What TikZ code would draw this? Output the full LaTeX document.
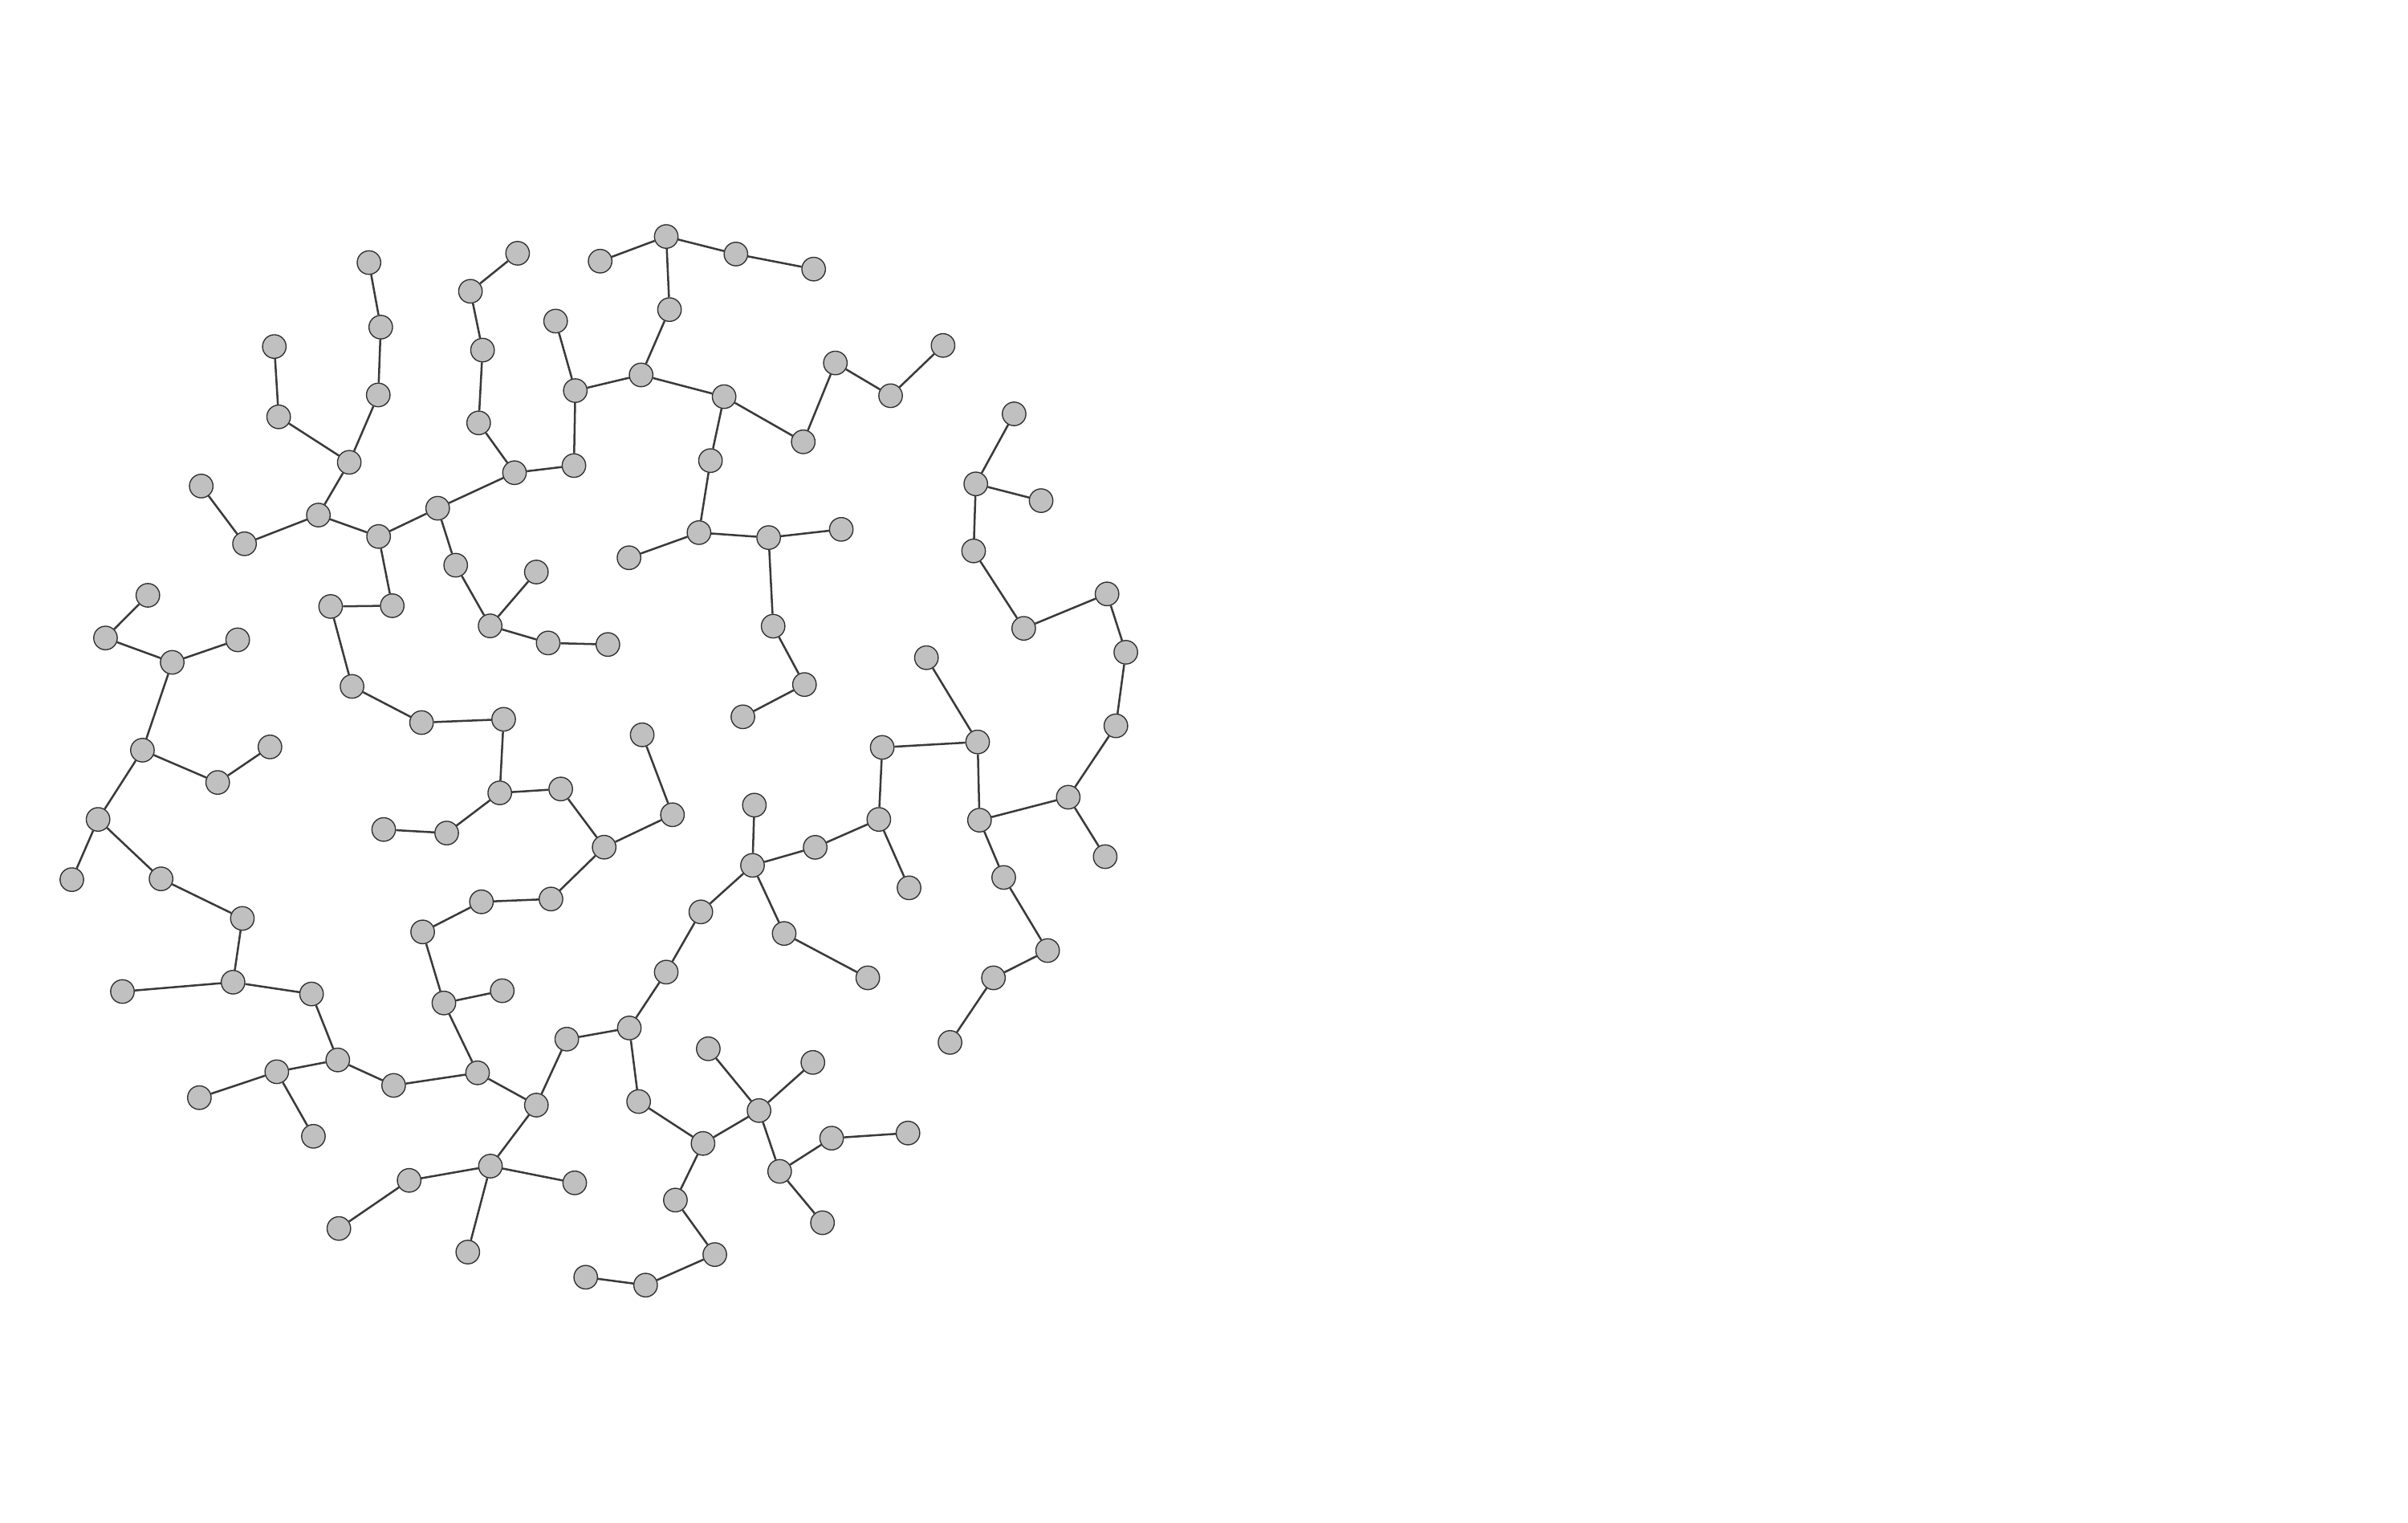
\documentclass[tikz,border=0pt]{standalone}
\definecolor{vfill}{HTML}{C0C0C0}
\definecolor{vline}{HTML}{303030}
\definecolor{eline}{HTML}{3A3A3A}
\tikzset{
  vtx/.style={circle,draw=vline,fill=vfill,line width=0.7pt,minimum size=15.2pt,inner sep=0pt},
  edg/.style={draw=eline,line width=1.3pt}
}
\begin{document}
\begin{tikzpicture}[x=1pt,y=-1pt]
\useasboundingbox (0,0) rectangle (1552,981);
% nodes
\foreach \n/\x/\y in {
n1/386.8/168.3, n2/429.4/152.4, n3/474.3/163.7, n4/524.4/173.4, n5/431.5/199.5,
n6/413.2/241.6, n7/370.8/251.7, n8/358.1/206.9, n9/369.9/300.0, n10/331.6/304.6,
n11/308.5/272.5, n12/311.0/225.6, n13/303.2/187.7, n14/333.6/163.2, n15/282.1/327.5,
n16/293.7/364.2, n17/315.9/403.3, n18/345.7/368.6, n19/353.3/414.3, n20/391.8/415.3,
n21/244.0/345.7, n22/252.8/390.3, n23/213.1/390.8, n24/226.9/442.3, n25/271.7/465.6,
n26/324.6/463.5, n27/322.1/510.9, n28/361.4/508.4, n29/287.9/536.8, n30/247.3/534.5,
n31/205.2/331.9, n32/157.6/350.4, n33/129.7/313.2, n34/225.1/297.9, n35/179.6/268.6,
n36/176.8/223.3, n37/243.8/254.5, n38/245.4/210.8, n39/237.8/169.2,
n40/466.7/255.6, n41/517.7/284.7, n42/538.4/233.9, n43/574.0/255.0, n44/607.8/222.6,
n45/457.9/296.8, n46/450.5/343.2, n47/405.4/359.4, n48/495.4/346.4, n49/542.2/341.1,
n50/498.3/403.5, n51/518.5/441.1, n52/478.8/461.9,
n53/95.3/383.6, n54/68.0/411.1, n55/111.0/426.8, n56/153.2/412.3, n57/91.8/483.4,
n58/140.3/504.2, n59/174.0/481.3, n60/63.2/528.0, n61/46.3/566.8, n62/103.8/566.3,
n63/156.2/591.8, n64/150.2/632.9, n65/78.9/638.9, n66/200.8/640.5, n67/217.7/683.0,
n68/178.4/690.6, n69/128.5/707.3, n70/202.0/732.2, n71/253.7/699.4, n72/307.8/691.3,
n73/286.1/646.3, n74/323.7/638.4, n75/272.4/600.5, n76/310.3/581.1, n77/355.1/579.3,
n78/389.4/545.9, n79/433.4/525.0, n80/413.9/473.5,
n81/345.7/712.1, n82/316.1/751.4, n83/263.7/760.6, n84/218.4/791.6, n85/301.5/806.8,
n86/370.4/762.2, n87/365.3/669.6, n88/405.6/662.4, n89/429.4/626.4, n90/451.7/587.6,
n91/485.0/557.6, n92/486.2/518.8, n93/525.4/546.0, n94/566.4/528.0, n95/568.6/481.6,
n96/630.1/478.1, n97/597.1/423.8, n98/631.3/528.5, n99/585.9/572.1, n100/505.4/601.5,
n101/559.3/630.1, n102/688.5/513.7, n103/719.2/467.7, n104/725.6/420.3, n105/713.5/382.7,
n106/659.8/404.9, n107/627.5/355.0, n108/628.9/311.8, n109/653.6/266.7, n110/671.0/322.6,
n111/712.3/552.0, n112/646.9/565.4, n113/675.2/612.5, n114/640.3/630.1, n115/612.3/671.7,
n116/411.6/709.8, n117/453.1/736.8, n118/489.2/715.6, n119/456.5/675.8, n120/523.9/684.6,
n121/502.5/754.8, n122/536.0/733.4, n123/585.2/730.1, n124/530.1/787.9, n125/435.3/773.3,
n126/460.7/808.4, n127/416.1/828.1, n128/377.5/823.0}
  {\node[vtx] (\n) at (\x,\y) {};}
% edges
\foreach \a/\b in {
n1/n2, n2/n3, n3/n4, n2/n5, n5/n6, n6/n7, n7/n8, n7/n9, n9/n10, n10/n11, n11/n12,
n12/n13, n13/n14, n10/n15, n15/n16, n16/n17, n17/n18, n17/n19, n19/n20, n15/n21,
n21/n22, n22/n23, n23/n24, n24/n25, n25/n26, n26/n27, n27/n28, n27/n29, n29/n30,
n21/n31, n31/n32, n32/n33, n31/n34, n34/n35, n35/n36, n34/n37, n37/n38, n38/n39,
n6/n40, n40/n41, n41/n42, n42/n43, n43/n44, n40/n45, n45/n46, n46/n47, n46/n48,
n48/n49, n48/n50, n50/n51, n51/n52,
n53/n54, n54/n55, n55/n56, n55/n57, n57/n58, n58/n59, n57/n60, n60/n61, n60/n62,
n62/n63, n63/n64, n64/n65, n64/n66, n66/n67, n67/n68, n68/n69, n68/n70, n67/n71,
n71/n72, n72/n73, n73/n74, n73/n75, n75/n76, n76/n77, n77/n78, n78/n79, n79/n80,
n78/n28,
n72/n81, n81/n82, n82/n83, n83/n84, n82/n85, n82/n86, n81/n87, n87/n88, n88/n89,
n89/n90, n90/n91, n91/n92, n91/n93, n93/n94, n94/n95, n95/n96, n96/n97, n96/n98,
n94/n99, n91/n100, n100/n101, n98/n102, n102/n103, n103/n104, n104/n105, n105/n106,
n106/n107, n107/n108, n108/n109, n108/n110, n102/n111, n98/n112, n112/n113,
n113/n114, n114/n115,
n88/n116, n116/n117, n117/n118, n118/n119, n118/n120, n118/n121, n121/n122,
n122/n123, n121/n124, n117/n125, n125/n126, n126/n127, n127/n128}
  {\draw[edg] (\a) -- (\b);}
\end{tikzpicture}
\end{document}
